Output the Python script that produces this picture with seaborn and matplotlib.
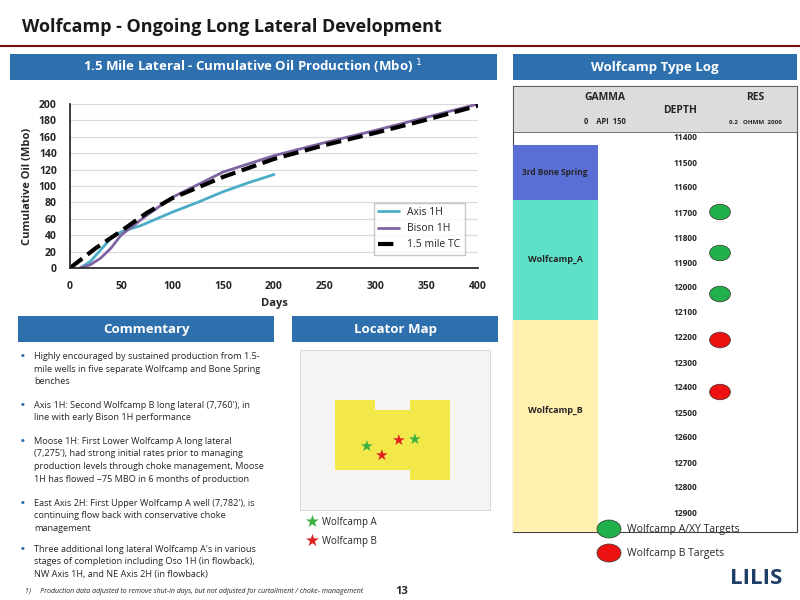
import matplotlib
matplotlib.use("Agg")
import matplotlib.pyplot as plt
import seaborn as sns
import pandas as pd
from matplotlib.patches import Rectangle, Circle

axis_days = [10, 20, 30, 40, 50, 60, 70, 100, 125, 150, 175, 200]
axis_oil = [0, 8, 22, 36, 44, 48, 52, 68, 80, 93, 104, 114]
bison_days = [10, 20, 30, 40, 50, 75, 100, 150, 200, 250, 300, 350, 400]
bison_oil = [0, 4, 12, 24, 40, 64, 86, 117, 137, 153, 168, 184, 200]
tc_days = [0, 25, 50, 75, 100, 150, 200, 250, 300, 350, 400]
tc_oil = [0, 24, 45, 67, 85, 111, 133, 150, 165, 181, 198]

sns.set_theme(style="white")
plt.rcParams['font.family'] = ['Open Sans', 'DejaVu Sans']
fig = plt.figure(figsize=(8, 6), dpi=100)
blue = "#2e6fae"

def T(x, y, s, **kw):
    fig.text(x / 800, 1 - y / 600, s, **kw)

def box(x, y, w, h, fc, ec="none", lw=0):
    fig.patches.append(Rectangle((x / 800, 1 - (y + h) / 600), w / 800, h / 600,
                                 transform=fig.transFigure, fc=fc, ec=ec, lw=lw))

T(22, 32, "Wolfcamp - Ongoing Long Lateral Development", fontsize=13, weight="bold", color="#1a1a1a")
fig.add_artist(plt.Line2D([0, 1], [1 - 46 / 600] * 2, color="#7a1010", lw=1.5))
box(10, 54, 487, 26, blue)
T(253, 71, "1.5 Mile Lateral - Cumulative Oil Production (Mbo) $^1$", ha="center", fontsize=9.5, weight="bold", color="white")
box(513, 54, 284, 26, blue)
T(655, 71, "Wolfcamp Type Log", ha="center", fontsize=9.5, weight="bold", color="white")
box(18, 316, 256, 26, blue)
T(146, 333, "Commentary", ha="center", fontsize=9.5, weight="bold", color="white")
box(292, 316, 206, 26, blue)
T(395, 333, "Locator Map", ha="center", fontsize=9.5, weight="bold", color="white")

ax = fig.add_axes([70 / 800, 1 - 268 / 600, 408 / 800, 164 / 600])
df = pd.concat([
    pd.DataFrame({"Days": axis_days, "Oil": axis_oil, "Well": "Axis 1H"}),
    pd.DataFrame({"Days": bison_days, "Oil": bison_oil, "Well": "Bison 1H"}),
])
sns.lineplot(data=df, x="Days", y="Oil", hue="Well", palette=["#4bacc6", "#8064a2"], lw=2, ax=ax)
sns.lineplot(x=tc_days, y=tc_oil, color="black", lw=3, ls="--", label="1.5 mile TC", ax=ax)
ax.set_xlim(0, 400); ax.set_ylim(0, 200)
ax.set_xticks(range(0, 401, 50)); ax.set_yticks(range(0, 201, 20))
ax.grid(axis="y", color="#d9d9d9", lw=0.8)
ax.tick_params(labelsize=7.5)
for l in ax.get_xticklabels() + ax.get_yticklabels():
    l.set_fontweight("bold")
ax.set_xlabel("Days", fontsize=8, weight="bold")
ax.set_ylabel("Cumulative Oil (Mbo)", fontsize=8, weight="bold")
for s in ["top", "right"]:
    ax.spines[s].set_visible(False)
ax.legend(loc="lower right", fontsize=7.5, frameon=True, edgecolor="#bbbbbb", fancybox=False,
          bbox_to_anchor=(0.98, 0.05))

bullets = [
    (352, "Highly encouraged by sustained production from 1.5-\nmile wells in five separate Wolfcamp and Bone Spring\nbenches"),
    (401, "Axis 1H: Second Wolfcamp B long lateral (7,760'), in\nline with early Bison 1H performance"),
    (437, "Moose 1H: First Lower Wolfcamp A long lateral\n(7,275'), had strong initial rates prior to managing\nproduction levels through choke management, Moose\n1H has flowed ~75 MBO in 6 months of production"),
    (499, "East Axis 2H: First Upper Wolfcamp A well (7,782'), is\ncontinuing flow back with conservative choke\nmanagement"),
    (545, "Three additional long lateral Wolfcamp A's in various\nstages of completion including Oso 1H (in flowback),\nNW Axis 1H, and NE Axis 2H (in flowback)"),
]
for y, s in bullets:
    T(20, y - 2, "•", fontsize=11, color=blue, va="top")
    T(34, y, s, fontsize=6.6, va="top", linespacing=1.5)

# locator map
box(300, 350, 190, 160, "#f4f4f4", "#cccccc", 0.5)
box(335, 400, 40, 70, "#f2e84a"); box(375, 410, 35, 60, "#f2e84a"); box(410, 400, 40, 80, "#f2e84a")
for (x, y, c) in [(366, 446, "#3cb043"), (381, 455, "#e02020"), (398, 440, "#e02020"), (414, 439, "#3cb043")]:
    fig.text(x / 800, 1 - y / 600, "★", color=c, fontsize=11, ha="center", va="center", family="DejaVu Sans")
fig.text(305 / 800, 1 - 522 / 600, "★", color="#3cb043", fontsize=12, va="center", family="DejaVu Sans")
fig.text(305 / 800, 1 - 541 / 600, "★", color="#e02020", fontsize=12, va="center", family="DejaVu Sans")
T(322, 525, "Wolfcamp A", fontsize=7)
T(322, 544, "Wolfcamp B", fontsize=7)

# type log
box(513, 86, 284, 446, "white", "#444444", 0.8)
box(513, 86, 284, 46, "#dcdcdc", "#444444", 0.5)
T(605, 100, "GAMMA", fontsize=7.5, weight="bold", ha="center")
T(605, 124, "0    API  150", fontsize=5.5, weight="bold", ha="center")
T(680, 113, "DEPTH", fontsize=7.5, weight="bold", ha="center")
T(755, 100, "RES", fontsize=7.5, weight="bold", ha="center")
T(755, 124, "0.2   OHMM  2000", fontsize=4.5, weight="bold", ha="center")
box(513, 145, 85, 55, "#5a6fd6"); T(555, 175, "3rd Bone Spring", fontsize=6, weight="bold", ha="center")
box(513, 200, 85, 120, "#5fe0c8"); T(555, 262, "Wolfcamp_A", fontsize=6.5, weight="bold", ha="center")
box(513, 320, 85, 212, "#fff0b0"); T(555, 413, "Wolfcamp_B", fontsize=6.5, weight="bold", ha="center")
for i, d in enumerate(range(11400, 13000, 100)):
    T(685, 138 + i * 25, str(d), fontsize=6, weight="bold", ha="center", va="center")
for y, c in [(212, "#22b04a"), (253, "#22b04a"), (294, "#22b04a"), (340, "#ee1111"), (392, "#ee1111")]:
    fig.patches.append(Circle((720 / 800, 1 - y / 600), 0.013, transform=fig.transFigure, fc=c, ec="#333", lw=0.5))
fig.patches.append(Circle((609 / 800, 1 - 529 / 600), 0.015, transform=fig.transFigure, fc="#22b04a", ec="#333", lw=0.5))
fig.patches.append(Circle((609 / 800, 1 - 553 / 600), 0.015, transform=fig.transFigure, fc="#ee1111", ec="#333", lw=0.5))
T(627, 532, "Wolfcamp A/XY Targets", fontsize=7.5)
T(627, 556, "Wolfcamp B Targets", fontsize=7.5)

T(25, 593, "1)     Production data adjusted to remove shut-in days, but not adjusted for curtailment / choke- management",
  fontsize=5, style="italic")
T(395, 594, "13", fontsize=8, weight="bold")
T(730, 584, "LILIS", fontsize=16, weight="bold", color="#1f3f66")
plt.savefig("out.png", dpi=100)
